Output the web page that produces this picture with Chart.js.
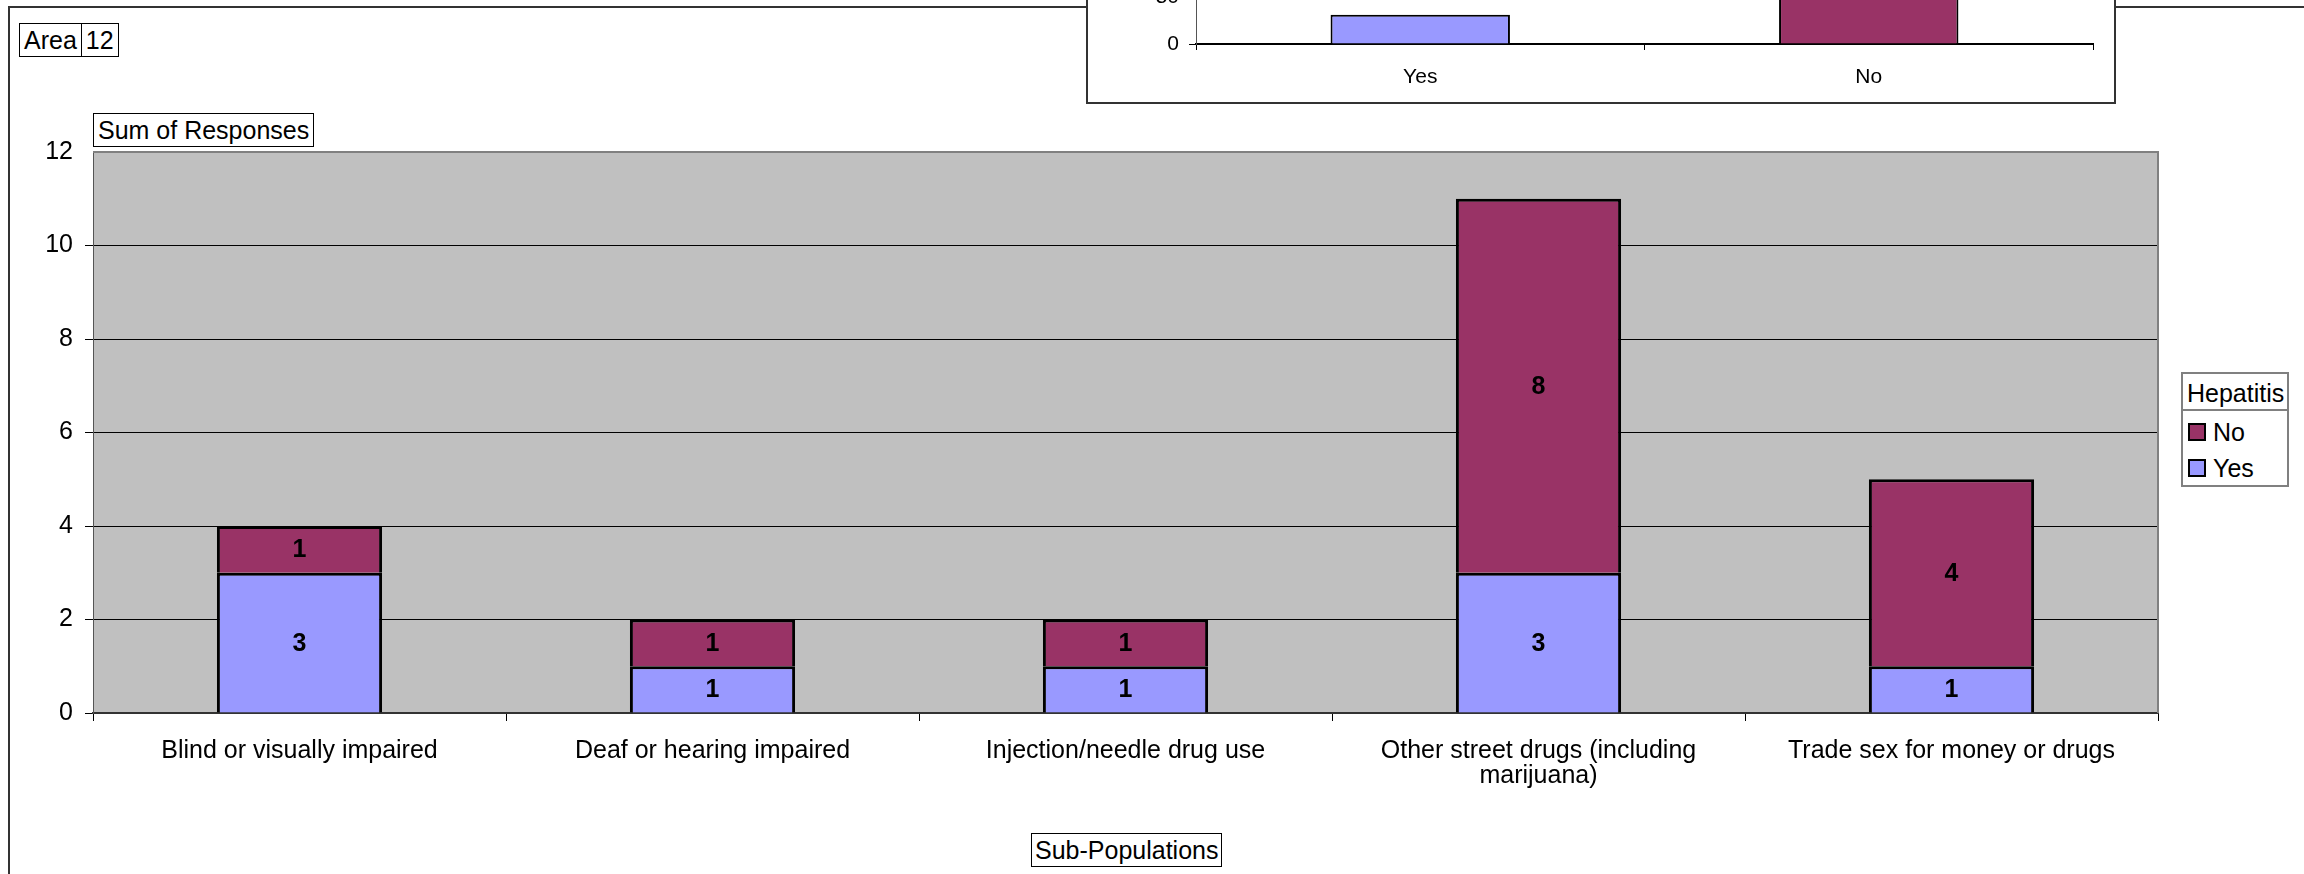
<!DOCTYPE html>
<html>
<head>
<meta charset="utf-8">
<script src="https://cdn.jsdelivr.net/npm/chart.js@4.4.0/dist/chart.umd.min.js"></script>
<style>
  html, body { margin:0; padding:0; width:2304px; height:874px; overflow:hidden; background:#fff;
    font-family:"Liberation Sans", Arial, sans-serif; color:#000; }
  #frame { position:absolute; left:8px; top:6px; width:3000px; height:2000px; border:2px solid #333; box-sizing:border-box; }
  #main { position:absolute; left:0; top:0; }
  .box { position:absolute; border:1px solid #000; font-size:25px; line-height:32px; padding:0 4px; white-space:nowrap; background:#fff; }
  #areaBox { position:absolute; left:19px; top:23px; height:34px; border:1px solid #000; box-sizing:border-box; display:flex; font-size:25px; line-height:32px; background:#fff; }
  #areaBox span { padding:0 4px; }
  #areaBox span + span { border-left:1px solid #000; }
  #inset { position:absolute; left:1086px; top:-196px; width:1030px; height:300px; border:2px solid #333; box-sizing:border-box; background:#fff; }
  #inset canvas { position:absolute; left:0; top:0; }
  #legend { position:absolute; left:2181px; top:372px; width:108px; height:115px; border:2px solid #808080; box-sizing:border-box; background:#fff; font-size:25px; }
  #legend .title { position:absolute; left:0; top:0; width:104px; height:37px; border-bottom:2px solid #808080; line-height:38px; padding-left:4px; box-sizing:border-box; }
  #legend .item { position:absolute; left:5px; height:26px; line-height:26px; }
  #legend .sw { position:absolute; left:0; top:4px; width:18px; height:18px; border:2px solid #000; box-sizing:border-box; }
  #legend .lbl { position:absolute; left:25px; top:0; white-space:nowrap; }
</style>
</head>
<body>
<div id="frame"></div>
<canvas id="main" width="2304" height="874"></canvas>
<div id="areaBox"><span>Area</span><span>12</span></div>
<div class="box" style="left:93px;top:113px;">Sum of Responses</div>
<div class="box" style="left:1031px;top:833px;padding:0 3px;">Sub-Populations</div>
<div id="legend"><div class="title">Hepatitis</div></div>
<div id="inset"><canvas id="insetCanvas" width="1026" height="296"></canvas></div>

<script>
// ---- Data ----
const categories = [
  "Blind or visually impaired",
  "Deaf or hearing impaired",
  "Injection/needle drug use",
  ["Other street drugs (including", "marijuana)"],
  "Trade sex for money or drugs"
];
const yesValues = [3, 1, 1, 3, 1];
const noValues  = [1, 1, 1, 8, 4];
const yTicksMax = 12;
const yTickStep = 2;
const legendTitle = "Hepatitis";

// inset chart (partially visible at top)
const insetCategories = ["Yes", "No"];
const insetValues = [31, 80];

const YES_COLOR = "#9999FF";
const NO_COLOR = "#993366";
const FONT = "'Liberation Sans', Arial, sans-serif";

Chart.defaults.font.family = FONT;
Chart.defaults.color = "#000";

const plotBg = {
  id: "plotBg",
  beforeDraw(chart) {
    const { ctx, chartArea: a } = chart;
    ctx.save();
    ctx.fillStyle = "#C0C0C0";
    ctx.fillRect(a.left, a.top, a.right - a.left, a.bottom - a.top);
    ctx.restore();
  },
  beforeDatasetsDraw(chart) {
    const { ctx, chartArea: a } = chart;
    ctx.save();
    ctx.strokeStyle = "#808080";
    ctx.lineWidth = 2;
    ctx.beginPath();
    ctx.moveTo(a.left, a.top);
    ctx.lineTo(a.right, a.top);
    ctx.lineTo(a.right, a.bottom);
    ctx.stroke();
    ctx.restore();
  }
};

const valueLabels = {
  id: "valueLabels",
  afterDatasetsDraw(chart) {
    const { ctx } = chart;
    ctx.save();
    ctx.font = "bold 25px " + FONT;
    ctx.fillStyle = "#000";
    ctx.textAlign = "center";
    ctx.textBaseline = "middle";
    chart.data.datasets.forEach((ds, i) => {
      const meta = chart.getDatasetMeta(i);
      meta.data.forEach((el, j) => {
        const v = ds.data[j];
        if (!v) return;
        ctx.fillText(String(v), el.x, (el.y + el.base) / 2 + 1);
      });
    });
    ctx.restore();
  }
};

const mainChart = new Chart(document.getElementById("main"), {
  type: "bar",
  data: {
    labels: categories,
    datasets: [
      { label: "Yes", data: yesValues, backgroundColor: YES_COLOR, borderColor: "#000", borderWidth: 3,
        categoryPercentage: 1, barPercentage: 0.4 },
      { label: "No", data: noValues, backgroundColor: NO_COLOR, borderColor: "#000", borderWidth: 3,
        categoryPercentage: 1, barPercentage: 0.4 }
    ]
  },
  options: {
    responsive: false,
    animation: false,
    devicePixelRatio: 1,
    layout: { padding: { left: 0, top: 152, right: 146, bottom: 0 } },
    plugins: { legend: { display: false }, tooltip: { enabled: false } },
    scales: {
      x: {
        stacked: true,
        offset: true,
        grid: { display: true, drawOnChartArea: false, drawTicks: true, tickLength: 8, color: "#000", offset: true },
        border: { display: true, color: "#333", width: 2 },
        ticks: { font: { size: 25, lineHeight: 1.0 }, color: "#000", padding: 18, maxRotation: 0, autoSkip: false },
        afterFit(s) { s.height = 161; }
      },
      y: {
        stacked: true,
        min: 0,
        max: yTicksMax,
        ticks: { stepSize: yTickStep, font: { size: 25 }, color: "#000", padding: 12 },
        grid: { color: (c) => (c.tick && c.tick.value === yTicksMax) ? "rgba(0,0,0,0)" : "#000", lineWidth: 1, tickLength: 8, drawTicks: true },
        border: { display: true, color: "#555", width: 1 },
        afterFit(s) { s.width = 93; }
      }
    }
  },
  plugins: [plotBg, valueLabels]
});

// HTML legend built from the datasets (reversed order like the original)
(function buildLegend() {
  const lg = document.getElementById("legend");
  lg.querySelector(".title").textContent = legendTitle;
  const ds = mainChart.data.datasets.slice().reverse();
  const tops = [419, 455];
  ds.forEach((d, i) => {
    const it = document.createElement("div");
    it.className = "item";
    it.style.top = (tops[i] - 372 - 2) + "px";
    const sw = document.createElement("div");
    sw.className = "sw";
    sw.style.background = d.backgroundColor;
    const lb = document.createElement("div");
    lb.className = "lbl";
    lb.textContent = d.label;
    it.appendChild(sw); it.appendChild(lb);
    lg.appendChild(it);
  });
})();

// Inset chart
new Chart(document.getElementById("insetCanvas"), {
  type: "bar",
  data: {
    labels: insetCategories,
    datasets: [{
      data: insetValues,
      backgroundColor: [YES_COLOR, NO_COLOR],
      borderColor: "#000",
      borderWidth: 2,
      categoryPercentage: 1,
      barPercentage: 0.4
    }]
  },
  options: {
    responsive: false,
    animation: false,
    devicePixelRatio: 1,
    layout: { padding: { left: 0, top: 50, right: 21, bottom: 0 } },
    plugins: { legend: { display: false }, tooltip: { enabled: false } },
    scales: {
      x: {
        offset: true,
        grid: { display: true, drawOnChartArea: false, drawTicks: true, tickLength: 6, color: "#000", offset: true },
        border: { display: true, color: "#000", width: 2 },
        ticks: { font: { size: 21, lineHeight: 1.0 }, color: "#000", padding: 17 },
        afterFit(s) { s.height = 58; }
      },
      y: {
        min: 0,
        max: 200,
        ticks: { stepSize: 50, font: { size: 21 }, color: "#000", padding: 10 },
        grid: { drawOnChartArea: false, drawTicks: true, tickLength: 7, color: "#000" },
        border: { display: true, color: "#555", width: 1 },
        afterFit(s) { s.width = 108; }
      }
    }
  }
});
</script>
</body>
</html>
